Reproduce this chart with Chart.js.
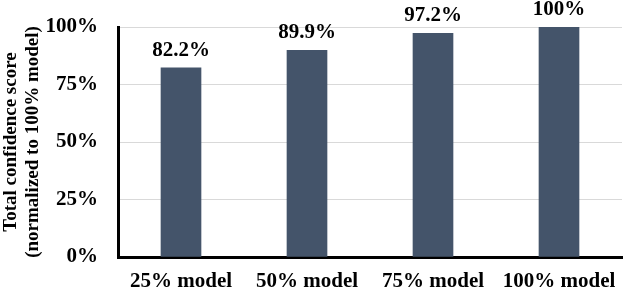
<!DOCTYPE html>
<html><head><meta charset="utf-8">
<script src="https://cdn.jsdelivr.net/npm/chart.js@4/dist/chart.umd.min.js"></script>
<style>html,body{margin:0;padding:0;background:#fff}#wrap{width:640px;height:291px}</style>
</head><body><div id="wrap"><canvas id="c" width="640" height="291"></canvas></div>
<script>
const categories = ["25% model", "50% model", "75% model", "100% model"];
const scores = [82.2, 89.9, 97.2, 100];
const valueLabels = ["82.2%", "89.9%", "97.2%", "100%"];
const yTicks = [0, 25, 50, 75, 100];

const FONT = "'Liberation Serif', 'Times New Roman', serif";

const labelPlugin = {
  id: 'valueLabels',
  afterDatasetsDraw(chart) {
    const ctx = chart.ctx;
    const meta = chart.getDatasetMeta(0);
    ctx.save();
    ctx.font = "bold 21px " + FONT;
    ctx.fillStyle = "#000";
    ctx.textAlign = "center";
    ctx.textBaseline = "alphabetic";
    meta.data.forEach((bar, i) => {
      ctx.fillText(valueLabels[i], bar.x, bar.y - 12);
    });
    ctx.restore();
  }
};

new Chart(document.getElementById('c'), {
  type: 'bar',
  data: {
    labels: categories,
    datasets: [{
      data: scores,
      backgroundColor: '#44546A',
      borderWidth: 0,
      barThickness: 40
    }]
  },
  options: {
    responsive: false,
    animation: false,
    devicePixelRatio: 1,
    layout: { padding: { top: 27, right: 18, bottom: 0, left: 0 } },
    plugins: { legend: { display: false }, tooltip: { enabled: false } },
    scales: {
      x: {
        afterFit(scale) { scale.height = 34; },
        grid: { display: false, drawTicks: false },
        border: { display: true, color: '#000', width: 3 },
        ticks: { color: '#000', font: { family: FONT, size: 21, weight: 'bold' }, padding: 12, maxRotation: 0 }
      },
      y: {
        min: 0, max: 100,
        afterFit(scale) { scale.width = 118; scale.paddingTop = 0; scale.paddingBottom = 0; },
        afterBuildTicks(axis) { axis.ticks = yTicks.map(v => ({ value: v })); },
        grid: { color: '#d9d9d9', lineWidth: 1, drawTicks: false },
        border: { display: true, color: '#000', width: 3 },
        ticks: { color: '#000', font: { family: FONT, size: 21, weight: 'bold' }, padding: 20, callback: v => v + '%' },
        title: {
          display: true,
          text: ['Total confidence score', '(normalized to 100% model)'],
          color: '#000',
          font: { family: FONT, size: 19, weight: 'bold', lineHeight: 1.15 },
          padding: { top: 0, bottom: 0 }
        }
      }
    }
  },
  plugins: [labelPlugin]
});
</script></body></html>
